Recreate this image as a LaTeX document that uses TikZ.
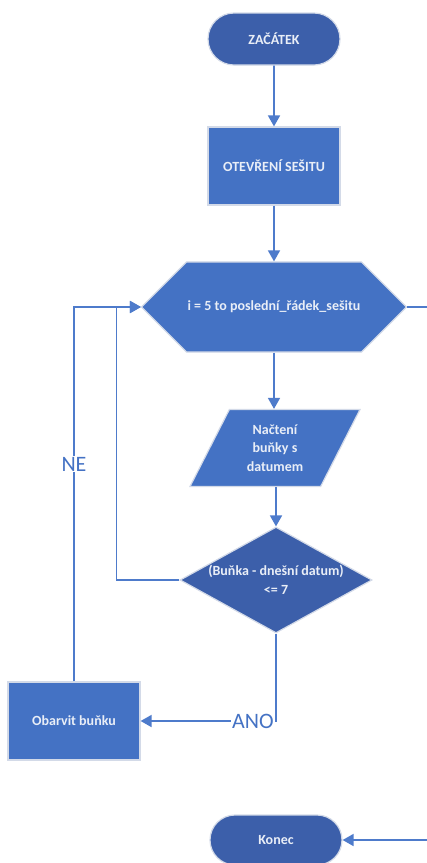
\documentclass[tikz,border=0pt]{standalone}
\usepackage{fontspec}
\setmainfont{Carlito}
\usepackage{tikz}
\usetikzlibrary{positioning, shapes.geometric, shapes.misc, arrows.meta}
\usepackage{xcolor}
\definecolor{boxblue}{HTML}{4472C4}
\definecolor{darkblue}{HTML}{3C5FAA}
\definecolor{lineblue}{HTML}{4E7BCB}
\definecolor{edgegray}{HTML}{D3DAE8}
\definecolor{textwhite}{HTML}{E9EEF7}
\tikzstyle{arrow} = [line width=1.7pt, lineblue, -{Triangle[length=11pt,width=12pt]}]
\tikzstyle{plain} = [line width=1.7pt, lineblue]

\begin{document}
\begin{tikzpicture}[x=1pt, y=-1pt,
    base/.style={draw=edgegray, line width=1.2pt, text=textwhite, font=\bfseries\fontsize{14}{18.5}\selectfont, align=center, inner sep=0pt},
    terminal/.style={base, fill=darkblue, rounded rectangle, minimum width=132pt, minimum height=52pt},
    process/.style={base, fill=boxblue, rectangle, minimum width=132pt, minimum height=78pt},
    hexbox/.style={base, fill=boxblue, chamfered rectangle, chamfered rectangle xsep=30pt, chamfered rectangle ysep=39pt, minimum width=265pt, minimum height=78pt},
    iobox/.style={base, fill=boxblue, trapezium, trapezium left angle=62.5, trapezium right angle=117.5, trapezium stretches=true, minimum width=170pt, minimum height=77pt},
    decision/.style={base, fill=darkblue, diamond, aspect=1.81, inner xsep=-5pt, inner ysep=0pt, minimum width=192pt, minimum height=106pt},
    answer/.style={fill=white, text=boxblue, font=\fontsize{22}{24}\selectfont, inner sep=1pt}
  ]
  \useasboundingbox (0,0) rectangle (427,863);

  \node[terminal] (start) at (274,39) {ZAČÁTEK};
  \node[process] (open) at (274,166) {OTEVŘENÍ SEŠITU};
  \node[hexbox] (forloop) at (274,307) {i = 5 to poslední\_řádek\_sešitu};
  \node[iobox] (read) at (275,448) {Načtení\\buňky s\\datumem};
  \node[decision] (cond) at (276,580) {(Buňka - dnešní datum)\\<= 7};
  \node[process] (paint) at (74,721) {Obarvit buňku};
  \node[terminal, minimum height=50pt] (finish) at (276,840) {Konec};

  \coordinate (out) at (427,307);
  \coordinate (in) at (427,840);

  \draw[arrow] (start) -- (open);
  \draw[arrow] (open) -- (forloop);
  \draw[arrow] (forloop.south) -- (forloop.south |- read.north);
  \draw[arrow] (read.south -| cond.north) -- (cond.north);
  \draw[arrow] (cond.west) -- ++(-63,0) |- (forloop.west);
  \draw[arrow] (paint.north) |- node[answer, pos=0.29] {NE} (forloop.west);
  \draw[arrow] (cond.south) |- node[answer, pos=0.585] {ANO} (paint.east);
  \draw[plain] (forloop.east) -- (out);
  \draw[arrow] (in) -- (finish.east);

\end{tikzpicture}
\end{document}
